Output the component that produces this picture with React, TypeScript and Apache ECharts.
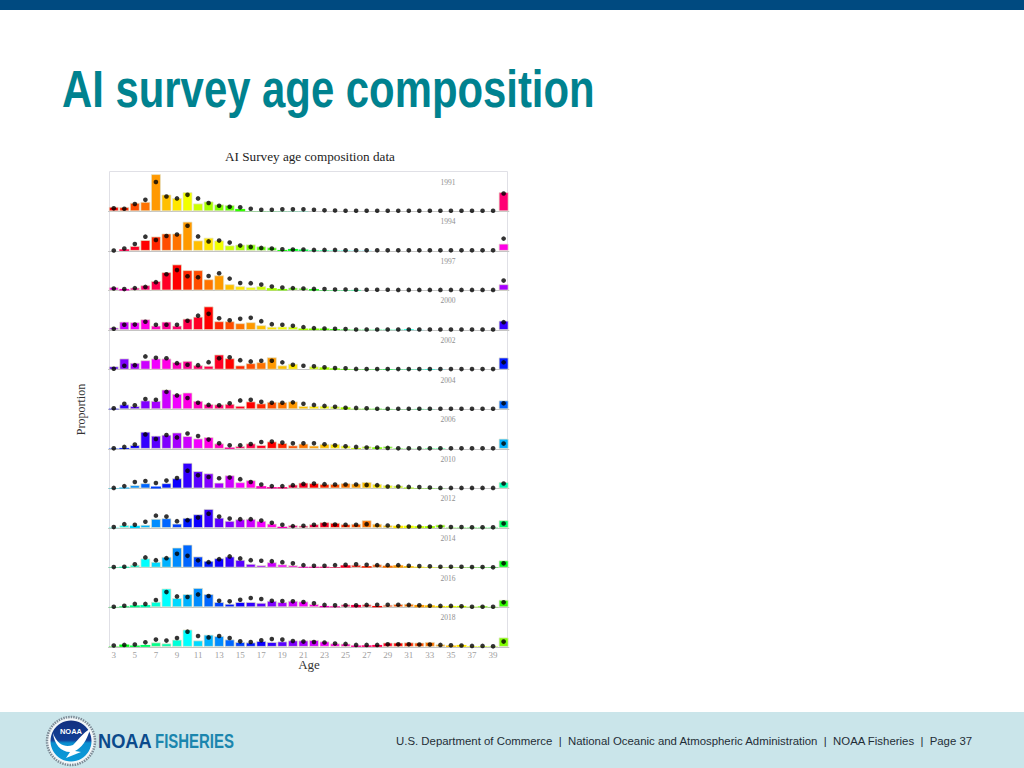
import React, { useEffect, useRef } from "react";
import * as echarts from "echarts";

const ages = [3,4,5,6,7,8,9,10,11,12,13,14,15,16,17,18,19,20,21,22,23,24,25,26,27,28,29,30,31,32,33,34,35,36,37,38,39,40];
const years = [1991,1994,1997,2000,2002,2004,2006,2010,2012,2014,2016,2018];
const tickAges = [3,5,7,9,11,13,15,17,19,21,23,25,27,29,31,33,35,37,39];

// proportions, in percent
const obs1991 = [2.3,2.2,4.3,4.8,18.8,8.5,6.7,9.7,4,5,3.5,3.2,1.2,0.1,0.1,0.1,0.1,0.1,0.1,0,0,0,0,0,0,0,0,0,0,0,0,0,0,0,0,0,0,9.7];
const fit1991 = [1.5,1.3,3.7,5.8,14.8,7.5,6.5,8.3,6.5,4.2,2.8,2.3,2,1.3,0.8,0.8,1,1,1,0.8,0.5,0.4,0.3,0.3,0.3,0.3,0.3,0.3,0.3,0.3,0.3,0.3,0.3,0.3,0.3,0.3,0.3,9];
const obs1994 = [0,0.8,2.5,5.5,7.3,8.8,8.8,14.8,5.3,6.7,5.3,2.8,3.2,3.3,2.3,1.8,0.5,1,0.7,0.3,0.3,0.2,0.2,0.1,0.1,0,0,0,0,0,0,0,0,0,0,0,0,3.7];
const fit1994 = [0.2,1.2,3.5,7.2,5.5,7.5,8.3,12.7,7.3,4.8,5.2,4.2,2.7,2,1.5,1.2,0.8,0.7,0.7,0.5,0.5,0.5,0.3,0.3,0.3,0.3,0.3,0.3,0.3,0.3,0.3,0.3,0.3,0.3,0.3,0.3,0.3,6.2];
const obs1997 = [1.7,0.8,1.5,2.7,4.8,9.3,13.2,10.3,10.3,5.7,7.7,3.2,2.2,1.7,2.2,1.2,0.8,1.5,1.3,0.7,0.2,0.2,0.2,0.3,0,0,0,0,0,0,0,0,0,0,0,0,0,3.2];
const fit1997 = [1,0.7,1.2,1.8,4.2,8.2,10.3,7.2,6.7,7.3,8.7,6,3.8,3.7,3,2,1.5,1.2,1,0.8,0.7,0.5,0.5,0.4,0.4,0.4,0.4,0.3,0.3,0.3,0.3,0.3,0.3,0.3,0.3,0.3,0.3,5];
const obs2000 = [1.3,4.3,4,5.5,2.3,4.3,2.3,5.8,6.8,12,4.5,4.5,3.5,4,2.5,1.7,1.8,1.8,0.8,0.8,0.8,0.5,0.3,0.2,0.2,0.2,0.2,0.2,0.4,0.1,0,0,0,0,0,0,0,4.8];
const fit2000 = [0.7,2.7,2.8,4.2,2.7,2.7,2.7,4.7,7.3,8.2,6,5,5.7,6.2,4.5,3,2.7,2.2,1.5,1,0.8,0.7,0.5,0.3,0.3,0.3,0.3,0.3,0.3,0.3,0.3,0.3,0.3,0.3,0.3,0.3,0.3,4];
const obs2002 = [1.7,5.7,3.5,4.8,5.7,5.7,3.8,4.5,2.3,2,7.7,5.8,2.2,3.3,3.8,6.3,2.2,3,0,1.7,1.2,0.7,0.4,0.2,0.2,0.2,0.3,0.2,0.2,0.2,0.3,0.1,0,0,0,0,0,6.2];
const fit2002 = [0.5,2,2.3,6.7,6,5.8,3.3,2.5,2.3,3.8,5.8,6.3,4.8,4.2,4.5,4.5,3.7,2.5,2,1.7,1.2,0.8,0.7,0.4,0.3,0.3,0.3,0.3,0.3,0.3,0.3,0.3,0.3,0.3,0.3,0.3,0.3,3.7];
const obs2004 = [0.3,2.5,1.7,4.5,4.3,10,7.8,8.5,4.3,2.7,2.5,2.8,1.8,4,3,3.8,3.7,4,1.7,1.7,1.8,1.5,1,0.3,0.3,0.3,0.2,0.1,0.1,0.2,0.1,0,0,0,0,0,0,4.5];
const fit2004 = [0.5,2.8,2,5.2,4.8,8.8,7,5.7,3.3,2.2,2,3,4.5,4.8,3.8,3.3,3.3,3.5,2.8,2.2,1.7,1.3,0.8,0.7,0.5,0.3,0.3,0.3,0.3,0.3,0.3,0.3,0.3,0.3,0.3,0.3,0.3,3];
const obs2006 = [0.2,0.5,2,8.7,6.7,7.2,8.3,6.5,5.3,6,2.8,0.7,1.5,2.8,2,3.8,3,1.8,2.7,1.7,2.5,2.5,1.7,0.5,1.3,0.8,1.3,0.2,0.1,0.1,0.2,0.2,0,0,0,0,0,5.2];
const fit2006 = [0.3,1,2.2,7.3,5,7,5.8,7.8,6.5,4.7,2.8,1.8,1.8,2.5,3.5,3.7,3.2,2.8,2.8,2.8,2.3,1.8,1.3,1,0.7,0.7,0.5,0.3,0.3,0.3,0.3,0.3,0.3,0.3,0.3,0.3,0.3,2.7];
const obs2010 = [0.2,0.5,1.7,2.7,1,2.7,5.2,13,8.8,7.7,3,6.7,3.2,4.2,1.2,0.7,0.7,2,3,2.7,2.3,2.3,2.7,2.5,3.3,2.3,1.7,1.5,0.5,0.2,0.2,0.1,0,0,0,0,0,3.3];
const fit2010 = [0.3,1.2,3.3,3.8,2.8,4,5.3,9,6.7,5.8,5.2,5.5,4.7,3.3,2,1.2,1.2,1.7,2.3,2.5,2.2,2,2,2,1.8,1.7,1,1,0.8,0.7,0.5,0.3,0.3,0.3,0.3,0.3,0.3,2.5];
const obs2012 = [0.2,1.5,1.2,1.7,4.7,5,2.3,5.2,7,9.7,5.3,3.7,4.5,4.7,3.7,2.3,0.7,1.5,1.3,2,3,2.7,2,2.2,4,2.2,1.5,1.2,1.2,1,1,1.8,0.2,0.2,0.2,0.2,0.2,4];
const fit2012 = [0.5,2,1.7,3.2,6.3,5.8,3.5,4,5.3,7.3,5.8,4.8,4.5,4.5,3.8,2.7,1.7,1,1.2,1.7,2,1.8,1.7,1.7,2,1.5,1.3,1,0.8,0.8,0.7,0.7,0.5,0.5,0.4,0.4,0.4,2.3];
const obs2014 = [0.2,0.5,1.5,4.7,3,5.5,10.2,11.7,5.7,3.5,4.8,5.7,4,2,1.3,2.8,1.7,1.3,0.5,0.5,0.5,0.3,1.2,1.5,0.8,1.7,1,1.2,0.8,0.5,0.3,0.2,0.2,0.2,0.2,0.2,0.2,3.7];
const fit2014 = [0.3,0.5,1.7,5.2,3.8,4.8,7,6,3.7,2.8,4.3,5.7,4.7,3.8,3.5,3.3,2.8,2.2,1.3,1,1,1.3,1.5,1.7,1.5,1.3,1.3,1.3,1,0.8,0.7,0.5,0.5,0.5,0.3,0.3,0.2,2.2];
const obs2016 = [0.2,0.5,1,1.2,2.8,9.5,4.7,6.7,9.8,6.7,2.7,1.8,2.7,2.7,2.3,3.3,2.7,3.3,3,1.7,0.7,0.5,1.5,1.2,1.5,0.7,1.3,1.7,1.8,1.2,1,0.7,0.7,0.7,0.3,0.5,0.2,3.8];
const fit2016 = [0.3,0.8,1.7,1.7,3.7,7.7,5.5,5.2,6.5,5.7,3.3,3,3.8,4.7,4.2,3.3,3.2,3,2.7,2,1.2,1,1,1,1.2,1.3,1.3,1.3,1.2,1,0.8,0.7,0.7,0.5,0.3,0.3,0.3,2.5];
const obs2018 = [0.2,1.2,0.7,1,2.3,1.8,3.7,8.8,3.3,6.2,5.5,3.8,2.5,2.3,3,2.5,2.8,3.3,3.3,3.5,2.8,1.8,1.7,0.7,0.8,1,2.2,2.2,2.3,2.2,2.5,1.3,0.7,1,0.3,0.3,0.2,4.8];
const fit2018 = [0.7,1,1.2,2.3,3.7,3.2,4.5,7.7,5.5,4.8,5.5,4.5,2.8,2.5,3.3,4,3.7,3,2.7,2.5,2.2,1.7,1.5,1,1,1,1.3,1.3,1.3,1.2,1.2,1,0.8,0.7,0.5,0.5,0.3,2.7];

const obsAll = [obs1991,obs1994,obs1997,obs2000,obs2002,obs2004,obs2006,obs2010,obs2012,obs2014,obs2016,obs2018];
const fitAll = [fit1991,fit1994,fit1997,fit2000,fit2002,fit2004,fit2006,fit2010,fit2012,fit2014,fit2016,fit2018];

const SERIF = "'Liberation Serif', serif";
const SANS = "'Liberation Sans', sans-serif";

const BIRD = "M53 733 C58 747 67 747 73 745 C79 739 83 733 90 729 C87 741 81 748 75 751 L81 752 L66 758 L70 752 C61 752 54 744 53 733 Z";

// colours follow the year class (rainbow of 40 hues)
const cohortColor = (year: number, age: number) => {
  const h = (((1988 - (year - age)) * 9) % 360 + 360) % 360;
  return `hsl(${h},100%,50%)`;
};

const PANEL_H = 39.6;
const FIRST_BASE = 211.3;
const LEFT = 108.5;
const WIDTH = 400.4;

export default function App() {
  const ref = useRef<HTMLDivElement>(null);
  useEffect(() => {
    if (!ref.current) return;
    echarts.graphic.registerShape("noaaBird", echarts.graphic.extendPath(BIRD, {}));
    const chart = echarts.init(ref.current, undefined, { renderer: "svg" });
    const grids: any[] = [], xAxes: any[] = [], yAxes: any[] = [], series: any[] = [], yearTexts: any[] = [];
    years.forEach((year, i) => {
      const base = FIRST_BASE + i * PANEL_H;
      const last = i === years.length - 1;
      grids.push({ left: LEFT, width: WIDTH, top: base - PANEL_H, height: PANEL_H });
      xAxes.push({
        type: "category", gridIndex: i, data: ages.map(String),
        axisLine: { show: true, lineStyle: { color: "#c4c4c4", width: 1 } },
        axisTick: { show: false }, splitLine: { show: false },
        axisLabel: {
          show: last, margin: 4, fontFamily: SERIF, fontSize: 9, color: "#a0a0a0",
          interval: 0, hideOverlap: false,
          formatter: (v: string) => (tickAges.includes(Number(v)) ? v : ""),
        },
      });
      yAxes.push({ type: "value", gridIndex: i, min: 0, max: 20, show: false });
      series.push({
        type: "bar", xAxisIndex: i, yAxisIndex: i, barWidth: 10, silent: true, clip: false,
        data: obsAll[i].map((v, k) => ({
          value: v,
          itemStyle: { color: cohortColor(year, ages[k]), borderColor: "rgba(226,226,200,0.7)", borderWidth: v > 1.2 ? 1 : 0 },
        })),
      });
      series.push({
        type: "scatter", xAxisIndex: i, yAxisIndex: i, symbolSize: 4.6, silent: true, clip: false, z: 5,
        itemStyle: { color: "#000" }, data: fitAll[i],
      });
      yearTexts.push({
        type: "text", x: 448, y: base - 29.3,
        style: { text: String(year), fill: "#8f8f8f", font: `7.5px ${SERIF}`, align: "center", verticalAlign: "middle" },
      });
    });

    chart.setOption({
      animation: false,
      backgroundColor: "#fff",
      grid: grids, xAxis: xAxes, yAxis: yAxes, series,
      graphic: [
        { type: "rect", z: -2, shape: { x: 0, y: 0, width: 1024, height: 10 }, style: { fill: "#004A80" } },
        { type: "rect", z: -2, shape: { x: 0, y: 712, width: 1024, height: 56 }, style: { fill: "#CAE5EA" } },
        { type: "rect", z: -1, shape: { x: 109.5, y: 171.5, width: 398, height: 476 }, style: { fill: "none", stroke: "#e0e0e6", lineWidth: 1 } },
        { type: "text", x: 62, y: 90, scaleX: 0.821, originX: 0, originY: 0, style: { text: "AI survey age composition", fill: "#00828F", font: `bold 51px ${SANS}`, verticalAlign: "middle" } },
        { type: "text", x: 310, y: 156, style: { text: "AI Survey age composition data", fill: "#222", font: `13.2px ${SERIF}`, align: "center", verticalAlign: "middle" } },
        { type: "text", x: 81, y: 409.5, rotation: Math.PI / 2, style: { text: "Proportion", fill: "#333", font: `12px ${SERIF}`, align: "center", verticalAlign: "middle" } },
        { type: "text", x: 309, y: 664, style: { text: "Age", fill: "#333", font: `13px ${SERIF}`, align: "center", verticalAlign: "middle" } },
        ...yearTexts,
        { type: "circle", shape: { cx: 71, cy: 741, r: 24 }, style: { fill: "#f2f6f8", stroke: "#7d8b96", lineWidth: 2.5, lineDash: [1.5, 1] } },
        { type: "circle", shape: { cx: 71, cy: 741, r: 20.5 }, style: { fill: new echarts.graphic.LinearGradient(0, 0, 0, 1, [
          { offset: 0, color: "#12307f" }, { offset: 0.48, color: "#123f96" }, { offset: 0.55, color: "#0a8fd0" }, { offset: 1, color: "#0b9ad8" },
        ]) } },
        { type: "noaaBird", style: { fill: "#fff" } },
        { type: "text", x: 71, y: 731, style: { text: "NOAA", fill: "#fff", font: `bold 7.5px ${SANS}`, align: "center", verticalAlign: "middle" } },
        { type: "text", x: 98, y: 741, scaleX: 0.89, style: { text: "NOAA", fill: "#0B4A8C", font: `bold 20.5px ${SANS}`, verticalAlign: "middle" } },
        { type: "text", x: 155, y: 741, scaleX: 0.73, style: { text: "FISHERIES", fill: "#1B86AE", font: `bold 20.5px ${SANS}`, verticalAlign: "middle" } },
        { type: "text", x: 396, y: 740.5, style: { text: "U.S. Department of Commerce  |  National Oceanic and Atmospheric Administration  |  NOAA Fisheries  |  Page 37", fill: "#1f2d36", font: `11.4px ${SANS}`, verticalAlign: "middle" } },
      ],
    });
    return () => chart.dispose();
  }, []);
  return <div ref={ref} style={{ position: "absolute", left: 0, top: 0, width: 1024, height: 768 }} />;
}
